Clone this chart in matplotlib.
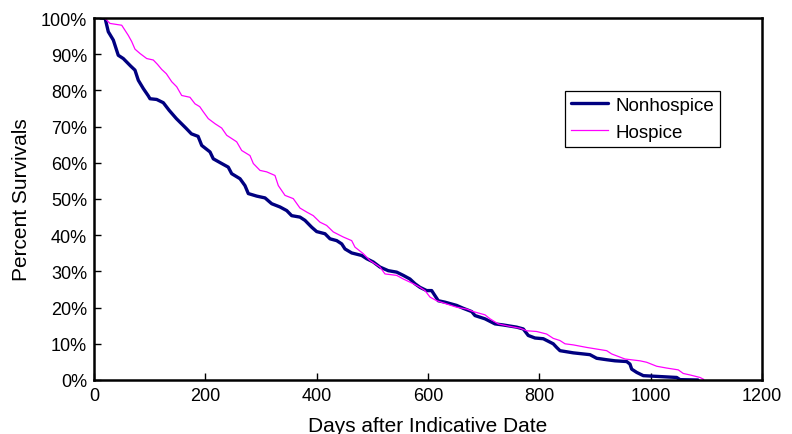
import matplotlib
matplotlib.use("Agg")
import matplotlib.pyplot as plt
from matplotlib.ticker import FuncFormatter

plt.rcParams['font.family'] = ['Liberation Sans', 'DejaVu Sans']

non_days = [12, 20, 25.7, 34.7, 43.6, 52.6, 66, 73.6, 79.6, 88.6, 97.5, 100.6, 112.6, 124.5, 135, 148,
            165, 175, 187, 193.5, 208.4, 214.3, 229.4, 241.2, 247.3, 262.3, 271.2, 277.2, 292.3, 307.2,
            319.2, 334.1, 346.2, 355.1, 370, 379, 391.1, 400, 415, 424, 436, 445, 450.9, 462.9, 480.9,
            489.9, 501.7, 513.7, 528.6, 543.7, 555.6, 567.6, 576.6, 585.6, 597.6, 606.6, 612.5, 618.5,
            630.5, 651.5, 663.4, 678.5, 684.4, 702.4, 720.3, 735.2, 759.3, 771.2, 780.1, 792.2, 807.1,
            825, 831.1, 837.1, 849.1, 861, 890.9, 903, 921, 935.9, 956.9, 962.8, 965.9, 974.9, 986.8,
            1010.9, 1046.8, 1052.7, 1085]
non_pct = [100, 99.9, 96.2, 93.9, 89.7, 88.8, 86.7, 85.6, 82.8, 80.5, 78.5, 77.7, 77.5, 76.6, 74.5, 72.2,
           69.6, 68.0, 67.3, 64.8, 63.0, 61.1, 59.8, 58.8, 57.0, 55.6, 53.7, 51.5, 50.8, 50.3,
           48.7, 47.8, 46.8, 45.4, 45.0, 44.1, 42.2, 41.0, 40.4, 39.0, 38.5, 37.6, 36.2, 35.1, 34.4,
           33.5, 32.6, 31.2, 30.2, 29.8, 28.9, 27.9, 26.6, 25.6, 24.7, 24.7, 23.3, 21.9,
           21.5, 20.6, 19.8, 18.9, 17.8, 16.9, 15.5, 15.2, 14.6, 14.1, 12.3, 11.6, 11.4,
           10.0, 9.0, 8.1, 7.8, 7.5, 7.0, 6.0, 5.6, 5.3, 5.1, 4.4, 3.0, 2.1, 1.2,
           1.0, 0.7, 0.1, 0.0]

hos_days = [12, 19.8, 28.7, 49.8, 55.7, 61.6, 67.7, 73.6, 82.6, 94.7, 106.5, 114, 121.6, 130, 139.6, 148.6,
            157.5, 172.4, 181.4, 190, 196.3, 205.3, 217.4, 229.4, 238.4, 256.3, 265.3, 280.2, 286.2,
            298.2, 310.2, 325.1, 331.1, 343.1, 358, 370, 382, 393.9, 405.9, 417.9, 429.9, 447.8, 462.9,
            468.8, 483.7, 495.8, 513.7, 522.7, 543.7, 555.6, 573.6, 585.6, 594.6, 603.6, 615.6, 633.6,
            651.5, 669.5, 681.4, 702.4, 711.4, 726.3, 744.2, 765.2, 777.2, 795.2, 813.1, 825, 837.1,
            846.1, 861, 885, 908.9, 921, 929.9, 953.8, 980.8, 992.8, 1010.8, 1028.7, 1049.6, 1058.6,
            1070.6, 1088.6, 1095]
hos_pct = [100, 99.9, 98.5, 98.0, 96.6, 95.2, 93.5, 91.4, 90.2, 88.8, 88.4, 87.2, 85.8, 84.6, 82.4, 81.0,
           78.6, 78.1, 76.3, 75.5, 74.1, 72.2, 70.8, 69.6, 67.6, 65.8, 63.4, 62.0, 59.8,
           57.9, 57.5, 56.5, 53.7, 51.0, 50.1, 47.5, 46.4, 45.4, 43.6, 42.7, 40.9, 39.5, 38.5,
           36.7, 34.9, 33.0, 31.2, 29.3, 28.9, 27.9, 26.6, 25.6, 24.7, 22.9, 21.9, 21.0,
           20.1, 19.6, 18.9, 18.0, 16.9, 15.5, 14.9, 14.3, 13.6, 13.4, 12.7, 11.5, 10.9,
           10.0, 9.7, 9.0, 8.4, 8.1, 7.2, 5.8, 5.3, 4.9, 3.8, 3.3, 2.8, 1.8,
           1.4, 0.7, 0.2]

x_ticks = [0, 200, 400, 600, 800, 1000, 1200]
y_ticks = [0, 10, 20, 30, 40, 50, 60, 70, 80, 90, 100]

fig = plt.figure(figsize=(7.92, 4.35), dpi=100)
ax = fig.add_axes([94/792, 1-381/435, 668/792, 362/435])

ax.plot(non_days, non_pct, color='#000080', lw=2.4, label='Nonhospice',
        solid_joinstyle='round', solid_capstyle='round')
ax.plot(hos_days, hos_pct, color='#FF00FF', lw=0.9, label='Hospice')

ax.set_xlim(0, 1200)
ax.set_ylim(0, 100)
ax.set_xticks(x_ticks)
ax.set_yticks(y_ticks)
ax.yaxis.set_major_formatter(FuncFormatter(lambda v, p: f"{v:.0f}%"))
ax.tick_params(direction='in', length=5, width=1, labelsize=13, colors='black')
ax.tick_params(axis='x', pad=5)
ax.tick_params(axis='y', pad=5)
for s in ax.spines.values():
    s.set_linewidth(1.8)
    s.set_color('black')

ax.set_xlabel('Days after Indicative Date', fontsize=15)
ax.xaxis.set_label_coords(0.5, -0.099)
ax.set_ylabel('Percent Survivals', fontsize=15)
ax.yaxis.set_label_coords(-0.095, 0.5)

leg = ax.legend(loc='upper left', bbox_to_anchor=(0.705, 0.799), borderaxespad=0,
                fontsize=13.5, frameon=True, fancybox=False, edgecolor='black', framealpha=1,
                handlelength=2.0, handletextpad=0.38, borderpad=0.32, labelspacing=0.53)
leg.get_frame().set_linewidth(0.9)

fig.savefig('out.png', dpi=100)
